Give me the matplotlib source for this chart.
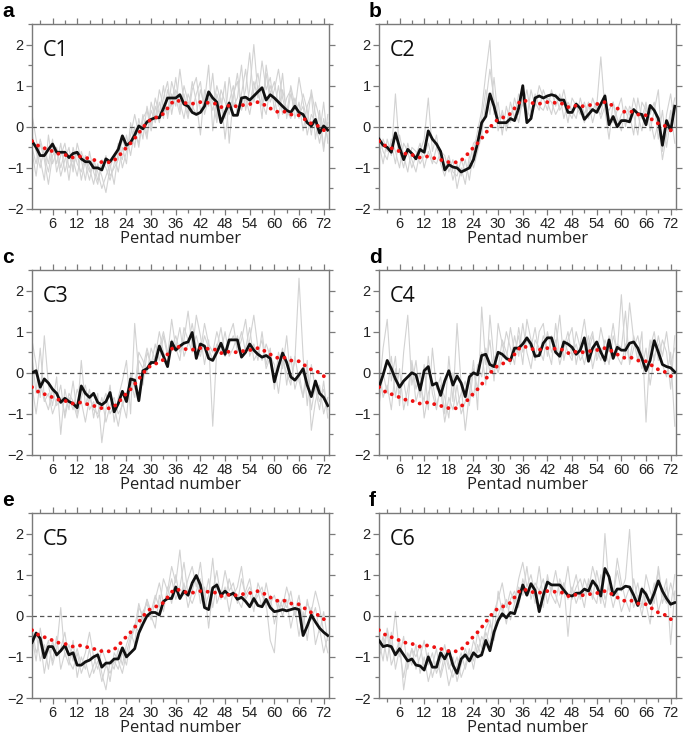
import matplotlib
matplotlib.use("Agg")
import matplotlib.pyplot as plt
from matplotlib.ticker import MultipleLocator
import numpy as np

pentads = np.arange(1, 74)

# climatology (red dotted), same in every panel
clim = [-0.35, -0.42, -0.5, -0.52, -0.55, -0.6, -0.65, -0.66, -0.68, -0.72,
        -0.75, -0.73, -0.72, -0.75, -0.78, -0.8, -0.85, -0.86, -0.85, -0.87,
        -0.82, -0.72, -0.62, -0.5, -0.4, -0.28, -0.15, -0.02, 0.1, 0.18,
        0.22, 0.25, 0.32, 0.45, 0.58, 0.65, 0.62, 0.58, 0.57, 0.56,
        0.58, 0.6, 0.6, 0.58, 0.58, 0.55, 0.48, 0.47, 0.52, 0.5,
        0.5, 0.52, 0.54, 0.55, 0.58, 0.6, 0.55, 0.52, 0.45, 0.38,
        0.36, 0.38, 0.35, 0.3, 0.28, 0.28, 0.22, 0.12, 0.08, 0.05,
        0.0, -0.08, -0.15]

# composite means (black)
mean_c1 = [-0.35, -0.5, -0.7, -0.7, -0.55, -0.42, -0.62, -0.62, -0.62, -0.75,
           -0.65, -0.62, -0.78, -0.85, -0.85, -1.0, -1.0, -1.05, -0.78, -0.85,
           -0.7, -0.55, -0.22, -0.45, -0.38, -0.2, 0.02, -0.05, 0.12, 0.18,
           0.22, 0.22, 0.45, 0.7, 0.7, 0.7, 0.78, 0.55, 0.5, 0.35,
           0.3, 0.35, 0.5, 0.85, 0.7, 0.6, 0.1, 0.35, 0.58, 0.28,
           0.28, 0.7, 0.72, 0.65, 0.75, 0.85, 0.95, 0.65, 0.78, 0.7,
           0.6, 0.5, 0.4, 0.35, 0.5, 0.35, 0.3, 0.1, 0.02, 0.18,
           -0.15, 0.02, -0.08]
mean_c2 = [-0.3, -0.45, -0.5, -0.62, -0.15, -0.5, -0.8, -0.55, -0.65, -0.78,
           -0.55, -0.62, -0.1, -0.3, -0.42, -0.6, -1.05, -0.92, -0.98, -1.0,
           -1.1, -1.05, -1.0, -0.8, -0.4, 0.1, 0.25, 0.8, 0.5, 0.1,
           0.1, 0.1, 0.2, 0.15, 0.45, 1.0, 0.1, 0.2, 0.7, 0.75,
           0.7, 0.75, 0.78, 0.75, 0.65, 0.65, 0.35, 0.35, 0.55, 0.45,
           0.18, 0.3, 0.42, 0.35, 0.55, 0.75, 0.05, 0.25, 0.0, 0.15,
           0.15, 0.12, 0.42, 0.32, 0.3, 0.05, 0.52, 0.4, 0.2, -0.45,
           0.15, -0.1, 0.5]
mean_c3 = [0.0, 0.05, -0.35, -0.15, -0.25, -0.4, -0.5, -0.72, -0.62, -0.7,
           -0.75, -0.85, -0.32, -0.5, -0.6, -0.5, -0.72, -0.78, -0.7, -0.48,
           -0.95, -0.75, -0.45, -0.7, -0.15, -0.18, -0.68, 0.05, 0.1, 0.25,
           0.25, 0.65, 0.4, 0.15, 0.75, 0.55, 0.65, 0.72, 0.75, 0.98,
           0.35, 0.7, 0.65, 0.35, 0.3, 0.5, 0.72, 0.45, 0.8, 0.8,
           0.8, 0.38, 0.5, 0.7, 0.55, 0.45, 0.38, 0.42, 0.35, -0.22,
           0.15, 0.48, 0.25, -0.1, -0.18, -0.05, 0.1, -0.3, -0.58, -0.2,
           -0.5, -0.6, -0.8]
mean_c4 = [-0.35, -0.05, 0.3, 0.1, -0.15, -0.35, -0.2, -0.1, 0.0, -0.05,
           -0.42, 0.05, 0.15, -0.3, -0.25, -0.55, -0.2, 0.05, -0.3, -0.08,
           -0.25, -0.58, -0.1, 0.0, -0.05, 0.42, 0.45, 0.2, 0.15, 0.5,
           0.45, 0.35, 0.3, 0.6, 0.6, 0.7, 0.85, 0.7, 0.4, 0.42,
           0.72, 0.85, 0.85, 0.5, 0.4, 0.75, 0.7, 0.62, 0.45, 0.55,
           0.85, 0.28, 0.6, 0.75, 0.5, 0.3, 0.8, 0.35, 0.62, 0.55,
           0.55, 0.72, 0.75, 0.6, 0.35, 0.05, 0.3, 0.78, 0.5, 0.2,
           0.15, 0.12, 0.02]
mean_c5 = [-0.65, -0.42, -0.55, -1.02, -0.75, -0.75, -0.95, -0.85, -0.72, -0.95,
           -0.9, -1.2, -1.2, -1.12, -1.08, -1.0, -0.95, -1.25, -1.15, -1.15,
           -1.05, -1.05, -0.78, -1.0, -0.9, -0.8, -0.42, -0.2, 0.0, 0.08,
           0.08, 0.02, 0.35, 0.42, 0.42, 0.7, 0.42, 0.6, 0.5, 0.8,
           0.98, 0.75, 0.2, 0.15, 0.68, 0.75, 0.5, 0.6, 0.5, 0.55,
           0.4, 0.45, 0.35, 0.22, 0.42, 0.25, 0.22, 0.4, 0.2, 0.1,
           0.12, 0.15, 0.12, 0.15, 0.18, 0.15, -0.48, -0.25, 0.02, -0.15,
           -0.3, -0.4, -0.48]
mean_c6 = [-0.6, -0.75, -0.72, -0.75, -0.95, -0.8, -0.95, -1.1, -1.05, -1.2,
           -1.22, -1.32, -1.0, -1.25, -1.25, -0.9, -1.05, -0.85, -1.2, -1.4,
           -1.05, -0.95, -1.1, -0.9, -1.0, -0.95, -0.6, -0.85, -0.4, -0.12,
           0.05, -0.05, 0.08, 0.05, 0.38, 0.75, 0.5, 0.78, 0.62, 0.1,
           0.5, 0.82, 0.75, 0.75, 0.75, 0.62, 0.5, 0.48, 0.55, 0.55,
           0.65, 0.6, 0.85, 0.72, 0.48, 1.15, 0.95, 0.5, 0.65, 0.65,
           0.72, 0.7, 0.5, 0.25, 0.65, 0.52, 0.3, 0.55, 0.85, 0.6,
           0.42, 0.28, 0.32]

# individual years (gray)
years_c1 = [
    [-0.2, -0.6, -1.0, -0.5, -0.9, -0.3, -1.1, -0.7, -0.4, -1.0,
     -0.8, -1.2, -0.6, -0.9, -1.3, -0.8, -1.1, -1.5, -1.2, -0.9,
     -1.4, -0.6, -0.8, -0.2, -0.7, -0.1, -0.4, 0.3, -0.2, 0.4,
     0.1, 0.6, 0.2, 0.9, 0.5, 1.2, 0.4, 0.8, 0.3, 1.1,
     0.6, -0.2, 0.9, 0.5, 1.3, 0.2, 0.7, -0.3, 0.6, 1.0,
     0.3, 0.8, 1.4, 0.5, 1.1, 0.7, 1.6, 0.9, 1.2, 0.4,
     1.0, 0.3, 0.7, 0.9, 0.2, 0.6, -0.1, 0.5, 0.8, -0.3,
     0.4, -0.5, 0.1],
    [-0.6, -1.2, -0.4, -0.8, -1.4, -0.7, -0.5, -1.0, -0.6, -1.3,
     -0.5, -0.9, -1.1, -0.7, -1.0, -1.4, -0.9, -1.2, -1.6, -1.0,
     -0.7, -1.1, -0.5, -0.9, 0.1, -0.5, 0.2, -0.3, 0.5, 0.0,
     0.7, 0.3, 1.0, 0.2, 0.8, 0.5, 1.4, 0.6, 0.2, 0.9,
     1.2, 0.4, 0.6, 1.5, -0.1, 0.8, 0.4, 1.1, -0.4, 0.7,
     1.3, 0.5, 0.9, 1.8, 0.6, 1.0, 0.2, 1.5, 0.8, 1.1,
     0.5, 1.3, 0.2, 0.8, 0.4, 1.2, 0.6, 0.1, 0.9, 0.3,
     -0.2, 0.6, -0.4],
    [0.3, -0.3, -0.8, -1.3, -0.2, -0.9, -0.6, -1.2, -0.8, -0.5,
     -1.1, -0.4, -0.8, -1.3, -0.6, -1.1, -1.4, -0.8, -1.0, -1.3,
     -0.9, -0.4, -1.0, -0.6, -0.2, 0.3, -0.2, 0.1, -0.3, 0.6,
     0.2, 0.9, 0.5, 0.3, 1.1, 0.7, 0.3, 1.0, 0.6, 0.4,
     0.8, 1.1, 0.3, 0.7, 0.4, 1.0, 0.6, 0.2, 1.2, 0.5,
     0.7, 1.5, 0.4, 0.9, 2.0, 0.8, 0.5, 1.3, 0.6, 0.9,
     1.4, 0.7, 0.3, 1.0, 0.5, 0.2, 0.8, 0.4, -0.2, 0.6,
     0.2, -0.6, 0.3],
    [-0.5, -0.9, -0.3, -0.7, -1.1, -0.5, -0.9, -0.4, -1.1, -0.7,
     -1.0, -0.6, -1.3, -0.8, -1.1, -0.9, -1.3, -1.0, -0.7, -1.2,
     -1.0, -0.8, -0.3, -0.6, -0.4, 0.0, -0.5, 0.2, 0.4, -0.1,
     0.5, 0.1, 0.7, 1.1, 0.3, 0.9, 0.6, 0.2, 0.8, 0.5,
     0.3, 0.9, 0.5, 0.8, 0.6, 0.1, 0.9, 0.6, 0.3, 0.8,
     1.1, 0.4, 0.7, 0.3, 0.9, 1.3, 0.6, 0.3, 1.0, 0.7,
     0.2, 0.9, 0.4, 0.2, 0.7, 0.3, 0.5, -0.2, 0.3, 0.1,
     -0.4, 0.2, -0.3],
]
years_c2 = [
    [-0.4, -0.9, -0.3, -0.7, 0.8, -0.6, -1.0, -0.4, -0.8, -1.1,
     -0.6, -0.3, 0.7, -0.6, -0.2, -0.9, -1.2, -0.8, -1.3, -0.9,
     -1.2, -0.8, -1.3, -0.6, -0.1, 0.4, 1.3, 2.1, 0.3, 0.6,
     -0.2, 0.5, 0.1, 0.7, 0.3, 0.6, 0.2, 0.9, 0.5, 1.0,
     0.7, 0.4, 0.9, 0.5, 0.8, 0.2, 0.6, 0.4, 0.2, 0.7,
     0.3, 0.6, 0.1, 0.5, 1.7, 0.4, -0.3, 0.6, 0.2, -0.1,
     0.5, 0.3, -0.2, 0.7, 0.2, 0.6, -0.1, 0.4, 0.9, -0.6,
     0.3, 0.8, 0.0],
    [-0.7, -0.3, -0.6, -0.4, -0.9, -0.2, -0.7, -1.1, -0.5, -0.6,
     -0.9, -0.7, -0.4, -0.8, -0.9, -0.6, -0.7, -1.1, -0.8, -1.5,
     -1.0, -1.4, -0.7, -1.0, -0.6, -0.2, 0.6, 1.4, 0.7, -0.1,
     0.4, 0.0, 0.6, 0.2, 0.8, 0.5, 0.9, 0.3, 0.6, 0.4,
     0.9, 0.6, 0.3, 0.8, 0.4, 0.6, 0.1, 0.7, 0.5, 0.3,
     0.6, 0.2, 0.7, 0.4, 0.3, 0.8, 0.2, 0.1, 0.4, 0.7,
     0.0, 0.5, 0.3, -0.2, 0.6, 0.4, 0.2, -0.3, 0.1, -0.8,
     -0.2, 0.4, -0.4],
    [-0.2, -0.6, -0.8, -0.3, -0.6, -1.0, -0.4, -0.6, -1.0, -0.7,
     -0.4, -1.0, -0.6, -0.9, -0.5, -0.8, -1.0, -0.7, -1.1, -1.2,
     -0.8, -1.1, -0.9, -0.4, -0.3, 0.2, 0.9, 0.3, 1.2, 0.2,
     0.3, -0.1, 0.3, 0.5, 0.1, 0.7, 0.4, 0.2, 0.8, 0.5,
     0.4, 0.7, 0.6, 0.3, 0.5, 0.9, 0.4, 0.2, 0.6, 0.4,
     0.1, 0.5, 0.4, 0.6, 0.2, 0.5, 0.4, 0.6, 0.0, 0.3,
     0.4, 0.1, 0.7, 0.3, -0.1, 0.5, 0.3, 0.6, -0.3, 0.4,
     -0.5, 0.2, 0.7],
]
years_c3 = [
    [0.8, 0.2, -0.6, 0.9, -0.3, -0.8, -0.1, -1.5, -0.4, -0.9,
     -0.2, -1.0, 0.3, -0.8, -0.4, -1.1, -0.5, -1.7, -0.9, -0.3,
     -1.2, -0.6, -0.2, 0.3, -1.0, 1.2, 0.0, -0.3, 0.5, 0.2,
     0.7, 0.3, 0.9, 0.4, 1.3, 0.6, 0.3, 1.1, 0.8, 0.5,
     1.4, 0.9, 0.2, 0.8, -1.3, 0.6, 1.1, 0.4, 0.9, 1.2,
     0.5, 0.8, 1.3, 0.4, 0.7, 0.3, 1.0, 0.2, 0.6, -0.4,
     0.5, 0.1, 0.9, -0.2, 0.3, 2.3, 0.4, -0.8, 0.2, -0.4,
     -0.9, -0.2, -1.1],
    [-0.3, -1.0, -0.2, -0.7, -0.5, -1.0, -0.7, -0.3, -1.1, -0.6,
     -0.9, -0.4, -0.7, -1.2, -0.6, -0.9, -1.0, -0.6, -1.2, -0.8,
     -0.6, -1.0, -0.8, -0.5, -0.2, -0.6, 0.3, 0.1, 0.6, 0.2,
     0.4, 1.0, 0.5, 0.2, 0.8, 0.6, 1.1, 0.4, 0.7, 1.2,
     0.6, 0.4, 0.9, 0.6, 0.3, 0.7, 0.5, 1.0, 0.4, 0.6,
     0.9, 0.4, 0.6, 1.1, 0.3, 0.5, 0.8, 0.1, 0.4, 0.2,
     -0.5, 0.3, 0.0, -0.3, 0.4, -0.2, -0.6, 0.1, -0.9, -0.3,
     -0.7, -0.4, -0.9],
    [0.4, -0.5, 0.6, -0.6, -0.9, -0.4, -0.8, -0.6, -1.0, -0.5,
     -0.7, -1.1, -0.6, -0.3, -0.9, -0.7, -1.1, -0.8, -0.5, -1.0,
     -0.8, -1.3, -0.7, -1.1, 0.0, -0.4, 0.5, 0.3, 0.0, 0.6,
     0.3, 0.6, 1.0, 0.5, 0.6, 0.9, 0.5, 0.8, 1.5, 0.6,
     0.9, 0.5, 1.2, 0.7, 0.5, 1.0, 0.6, 0.4, 0.7, 0.9,
     0.6, 1.0, 0.5, 0.8, 1.4, 0.6, 0.3, 0.7, 0.4, -0.1,
     0.2, 0.6, -0.3, 0.4, -0.4, 0.0, -0.6, 0.3, -1.4, -0.7,
     -0.3, -1.0, -0.6],
]
years_c4 = [
    [-0.5, 0.6, 1.3, -0.2, 0.4, -0.8, 0.5, 1.4, -0.3, 0.3,
     -0.6, 0.2, -0.9, 0.6, -0.4, -0.1, -1.0, 0.4, -0.7, 1.2,
     -0.3, -1.4, -0.5, 0.3, -0.9, 1.6, 0.2, 0.8, -0.2, 1.2,
     0.7, 0.3, 1.1, 0.5, 0.9, 0.2, 1.3, 0.8, 0.3, 1.0,
     1.2, 0.4, 0.9, 0.6, 1.4, 0.3, 0.8, 1.1, 0.2, 0.7,
     1.3, 0.5, 0.9, 0.4, 1.1, 0.6, 0.2, 0.9, 0.5, 1.9,
     0.4, 1.7, 0.8, 0.3, 1.0, -1.2, 0.6, 1.0, 0.3, 0.8,
     0.5, -0.4, 0.9],
    [0.2, -0.6, -0.3, -0.9, 0.1, -0.5, -0.2, -0.8, 0.3, -0.4,
     0.0, -1.1, -0.5, -0.2, -0.8, -0.4, -1.2, -0.6, -0.9, -0.3,
     -1.0, -0.7, -0.2, -0.6, 0.2, -0.1, 0.6, 0.0, 0.4, 0.1,
     0.8, 0.5, 0.2, 0.9, 0.4, 1.2, 0.5, 0.1, 0.8, 0.6,
     0.3, 1.0, 0.5, 0.8, 0.2, 0.6, 1.0, 0.4, 0.7, 0.3,
     0.5, 0.9, 0.1, 0.6, 0.3, 0.8, 0.5, 1.2, 0.4, 0.2,
     0.7, 0.3, 0.9, 0.5, 0.1, 0.6, -0.3, 0.4, 0.7, 0.2,
     -0.1, 0.5, -1.3],
    [-0.8, 0.0, -0.5, 0.4, -0.6, 0.1, -0.9, -0.4, 0.2, -0.7,
     -0.3, -0.7, 0.4, -0.5, -0.9, -0.3, -0.6, -1.1, 0.0, -0.8,
     -0.5, -0.2, -0.8, 0.1, -0.4, 0.5, -0.3, 1.4, 0.3, 0.0,
     0.4, 1.0, 0.6, 0.2, 1.1, 0.5, 0.8, 0.6, 1.1, 0.4,
     0.9, 0.6, 0.2, 1.2, 0.4, 0.8, 0.5, 0.3, 1.0, 0.6,
     0.2, 0.7, 1.0, 0.3, 0.6, 0.2, 0.9, 0.4, 0.7, 0.6,
     1.5, 0.2, 0.6, 0.9, 0.4, 0.0, 0.8, 0.3, 0.9, 0.4,
     1.0, 0.2, 0.6],
]
years_c5 = [
    [-0.3, -0.9, -0.6, -1.4, -0.8, -1.1, -0.5, -1.3, -0.9, -1.2,
     -0.6, -1.5, -1.0, -1.3, -0.8, -1.4, -1.1, -1.6, -1.2, -1.4,
     -1.1, -1.3, -0.9, -1.2, -0.6, -0.3, 0.3, -0.1, 0.4, 0.1,
     0.5, 0.2, 0.9, 0.6, 1.2, 0.8, 1.6, 0.5, 0.9, 1.2,
     0.7, 1.3, 0.4, 0.9, 0.2, 0.8, 0.5, 1.1, 0.6, 0.8,
     0.3, 0.9, 0.5, 0.7, 0.4, 0.6, 0.2, 0.8, 0.3, 0.5,
     0.1, 0.4, 0.2, 0.6, 0.0, 0.3, -0.3, 0.4, -0.1, 0.2,
     -0.4, 0.1, -0.6],
    [-0.8, -0.4, -1.1, -0.7, -1.3, -0.6, -1.0, -0.8, -0.4, -1.1,
     -1.3, -0.9, -1.4, -1.1, -1.5, -1.2, -0.9, -1.4, -1.8, -1.1,
     -1.3, -0.8, -1.2, -0.7, -0.4, -0.7, 0.2, 0.0, 0.4, 0.0,
     -0.3, 0.5, 0.1, 0.7, 0.3, 1.0, 0.4, 0.8, 0.2, 0.6,
     1.0, 0.3, 0.7, -0.3, 0.6, 1.1, 0.4, 0.7, 0.1, 0.6,
     0.4, 0.2, 0.6, 0.9, 0.3, 0.5, 0.7, 0.2, 0.5, -0.2,
     0.3, 0.0, 0.4, -0.3, 0.2, -0.5, 0.1, -0.6, 0.2, -0.7,
     -0.3, -0.9, -0.5],
    [-0.5, -1.1, -0.3, -0.9, -0.6, -1.2, -0.8, 0.2, -1.0, -0.7,
     -1.1, -0.8, -1.2, -0.9, -0.4, -1.0, -1.3, -0.8, -1.1, -1.6,
     -0.9, -1.1, -1.4, -0.9, -0.5, -0.2, -0.4, 0.1, 0.3, -0.1,
     0.4, 0.8, 0.3, 0.5, 0.9, 0.4, 0.7, 1.3, 0.5, 0.3,
     0.6, 0.9, 0.2, 0.5, 1.4, 0.3, 0.6, 0.4, 0.9, 0.5,
     0.7, 1.2, 0.4, 0.6, 0.1, 0.8, 0.5, 0.3, -0.6, -0.9,
     0.4, 0.2, 0.7, 0.3, 0.1, 0.5, -0.2, 0.3, 0.1, 0.6,
     0.2, -0.4, -0.9],
]
years_c6 = [
    [-0.9, -0.5, -1.1, -0.4, -1.3, -0.8, -1.5, -0.9, -1.2, -0.7,
     -1.4, -1.0, -1.6, -1.2, -0.8, -1.5, -1.1, -1.7, -1.3, -1.0,
     -1.5, -1.2, -0.8, -1.3, -0.7, -1.0, -0.4, -0.7, 0.1, 0.4,
     0.8, 0.2, 0.6, 0.3, 0.9, 1.3, 0.7, 1.0, 0.5, 1.2,
     0.4, 0.9, 0.6, 1.1, 0.5, 0.8, -0.5, 0.6, 1.0, 0.4,
     0.9, 0.6, 1.2, 0.8, 0.3, 2.0, 0.7, 0.5, 1.1, 0.6,
     0.9, 2.1, 0.4, 0.8, 0.2, 1.0, 0.6, 0.3, 1.2, 0.5,
     0.9, -0.7, 0.6],
    [-0.6, -1.1, -0.3, -0.8, 0.1, -1.0, -0.5, -1.3, -0.8, -1.0,
     -0.7, -1.3, -0.9, -1.5, -1.1, -1.4, -0.9, -1.3, -1.0, -1.6,
     -1.2, -0.8, -1.1, -0.6, -0.9, -0.5, -0.7, -0.2, -0.5, 0.6,
     0.1, 0.4, -0.1, 0.3, 0.7, 0.5, 1.2, 0.4, 0.8, 0.6,
     0.9, 0.3, 0.7, 0.5, 0.2, 0.8, 0.4, 0.7, 0.3, 0.6,
     0.2, 0.9, 0.5, 0.3, 1.0, 0.4, 0.7, 0.2, 0.6, 0.1,
     0.4, 0.7, 0.2, 0.5, 0.0, 0.6, 0.3, 0.8, 0.1, 0.5,
     0.3, 0.8, 0.4],
    [-1.0, -0.7, -0.4, -1.2, -0.9, -0.6, -1.8, -1.1, -0.8, -1.3,
     -1.0, -0.6, -1.2, -0.9, -1.4, -1.1, -0.7, -1.2, -1.5, -1.2,
     -0.9, -1.3, -0.9, -1.1, -0.4, -0.8, -0.3, -0.1, -0.6, 0.0,
     0.3, -0.2, 0.4, 0.6, 0.2, 0.9, 0.5, 0.8, 0.3, 0.6,
     0.2, 1.0, 0.5, 0.3, 0.9, 0.6, 1.2, 0.4, 0.7, 0.9,
     0.5, 0.8, 0.4, 1.1, 0.6, 0.2, 0.9, 0.5, 1.4, 0.8,
     0.4, 0.1, 0.9, 0.4, 0.7, 0.3, -0.2, 0.6, 1.1, 0.3,
     0.7, 0.2, 1.0],
]

names = ["C1", "C2", "C3", "C4", "C5", "C6"]
letters = ["a", "b", "c", "d", "e", "f"]
means = [mean_c1, mean_c2, mean_c3, mean_c4, mean_c5, mean_c6]
years = [years_c1, years_c2, years_c3, years_c4, years_c5, years_c6]

W, H = 685, 745
fig = plt.figure(figsize=(W / 100, H / 100), dpi=100)

lefts = [32, 379]
tops = [24, 270, 513]
aw, ah = 297, 185
spine_col = "#7a7a7a"

for i in range(6):
    r, c = divmod(i, 2)
    x0, y0 = lefts[c], tops[r]
    ax = fig.add_axes([x0 / W, 1 - (y0 + ah) / H, aw / W, ah / H])

    for yr in years[i]:
        ax.plot(pentads, yr, color="#d2d2d2", lw=0.8, zorder=1)
    ax.axhline(0, color="#555555", lw=0.9, ls=(0, (3.5, 2.5)), zorder=2)
    ax.plot(pentads, means[i], color="#111111", lw=2.0, zorder=3)
    ax.plot(pentads, clim, color="#ee1111", lw=2.8, ls=(0, (0.01, 1.9)),
            dash_capstyle="round", zorder=4)

    ax.set_xlim(1, 73.3)
    ax.set_ylim(-2, 2.5)
    ax.set_xticks(np.arange(6, 73, 6))
    ax.xaxis.set_minor_locator(MultipleLocator(3))
    ax.set_yticks([-2, -1, 0, 1, 2])
    ax.yaxis.set_minor_locator(MultipleLocator(0.5))
    ax.tick_params(which="both", direction="out", top=True, right=True,
                   color=spine_col, labelsize=10.5, pad=2)
    ax.tick_params(which="major", length=4, width=0.9)
    ax.tick_params(which="minor", length=3, width=0.9)
    for lab in ax.get_xticklabels() + ax.get_yticklabels():
        lab.set_fontfamily("Liberation Sans")
        lab.set_color("#222222")
    for s in ax.spines.values():
        s.set_color(spine_col)
        s.set_linewidth(1.0)

    ax.set_xlabel("Pentad number", fontsize=12, family="Open Sans",
                  color="#222222", labelpad=0)
    ax.text(0.035, 0.80, names[i], transform=ax.transAxes, fontsize=15.5,
            family="Open Sans", color="#111111", va="bottom")
    fig.text((x0 - 30 + 20 * c) / W, 1 - (y0 - 7) / H, letters[i],
             fontsize=15, fontweight="bold", family="Liberation Sans",
             va="baseline", ha="left")

fig.savefig("out.png", dpi=100)
